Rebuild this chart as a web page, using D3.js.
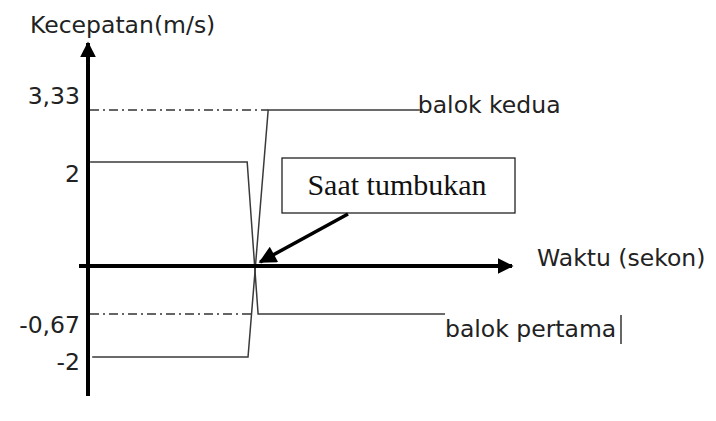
<!DOCTYPE html>
<html>
<head>
<meta charset="utf-8">
<script src="https://cdn.jsdelivr.net/npm/d3@7"></script>
<style>
  body { margin: 0; background: #fff; }
  svg { display: block; }
</style>
</head>
<body>
<svg id="chart" width="716" height="421"></svg>
<script>
// values (time in arbitrary units, velocity in m/s)
var tickValues = [3.33, 2, -0.67, -2];
var tickLabels = ["3,33", "2", "-0,67", "-2"];

var pertamaTime = [0.5, 37.9, 40.5, 85];
var pertamaVel = [2, 2, -0.67, -0.67];

var keduaTime = [1, 38.1, 42.9, 79];
var keduaVel = [-2, -2, 3.33, 3.33];

// dash-dot guide lines from the axis to the after-collision values
var guideVel = [3.33, -0.67];
var guideEnd = [42.9, 39.3];

var collisionTime = 39.8;

var svg = d3.select("#chart");

var x = d3.scaleLinear().domain([0, 100]).range([88, 508]);
// the sketch is not to scale, so piecewise scale through the marked values
var y = d3.scaleLinear()
    .domain([-2, -0.67, 0, 2, 3.33])
    .range([357, 314, 266, 162, 110]);

var defs = svg.append("defs");
defs.append("marker")
    .attr("id", "head")
    .attr("viewBox", "0 0 10 10")
    .attr("refX", 9).attr("refY", 5)
    .attr("markerWidth", 4).attr("markerHeight", 4)
    .attr("markerUnits", "strokeWidth")
    .attr("orient", "auto")
    .append("path").attr("d", "M0,0L10,5L0,10Z").attr("fill", "#000");
defs.append("marker")
    .attr("id", "head2")
    .attr("viewBox", "0 0 10 10")
    .attr("refX", 9).attr("refY", 5)
    .attr("markerWidth", 5.5).attr("markerHeight", 5)
    .attr("markerUnits", "strokeWidth")
    .attr("orient", "auto")
    .append("path").attr("d", "M0,0L10,5L0,10Z").attr("fill", "#000");

// guide lines
svg.selectAll(".guide")
    .data(guideVel)
    .enter().append("line")
    .attr("class", "guide")
    .attr("x1", x(0) + 2)
    .attr("x2", function(d, i) { return x(guideEnd[i]); })
    .attr("y1", function(d) { return y(d); })
    .attr("y2", function(d) { return y(d); })
    .attr("stroke", "#333")
    .attr("stroke-width", 1.4)
    .attr("stroke-dasharray", "9,4,2,4");

var line = d3.line()
    .x(function(d) { return x(d[0]); })
    .y(function(d) { return y(d[1]); });

svg.append("path")
    .datum(d3.zip(pertamaTime, pertamaVel))
    .attr("d", line)
    .attr("fill", "none").attr("stroke", "#3a3a3a").attr("stroke-width", 1.5);

svg.append("path")
    .datum(d3.zip(keduaTime, keduaVel))
    .attr("d", line)
    .attr("fill", "none").attr("stroke", "#3a3a3a").attr("stroke-width", 1.5);

// axes
svg.append("line")
    .attr("x1", x(0)).attr("x2", x(0))
    .attr("y1", 396).attr("y2", 43)
    .attr("stroke", "#000").attr("stroke-width", 4)
    .attr("marker-end", "url(#head)");

svg.append("line")
    .attr("x1", x(0) - 9).attr("x2", 512)
    .attr("y1", y(0)).attr("y2", y(0))
    .attr("stroke", "#000").attr("stroke-width", 4)
    .attr("marker-end", "url(#head)");

// tick labels
var fs = 23.5;
var labelDy = [1, 27, 26, 20];
var axis = d3.axisLeft(y)
    .tickValues(tickValues)
    .tickSize(0)
    .tickPadding(8)
    .tickFormat(function(d, i) { return tickLabels[i]; });

var g = svg.append("g")
    .attr("transform", "translate(" + x(0) + ",0)")
    .call(axis);
g.select(".domain").remove();
g.selectAll("text")
    .attr("font-family", "DejaVu Sans")
    .attr("font-size", fs)
    .attr("fill", "#222")
    .attr("dy", function(d, i) { return labelDy[i] - 8; });

// text labels
var sans = "DejaVu Sans";
svg.append("text").attr("x", 30).attr("y", 33)
    .attr("font-family", sans).attr("font-size", fs).attr("fill", "#222")
    .text("Kecepatan(m/s)");
svg.append("text").attr("x", 537).attr("y", 266)
    .attr("font-family", sans).attr("font-size", fs).attr("fill", "#222")
    .text("Waktu (sekon)");
svg.append("text").attr("x", x(keduaTime[3]) - 2).attr("y", y(3.33) + 3)
    .attr("font-family", sans).attr("font-size", fs).attr("fill", "#222")
    .text("balok kedua");
svg.append("text").attr("x", x(pertamaTime[3])).attr("y", 337)
    .attr("font-family", sans).attr("font-size", fs).attr("fill", "#222")
    .text("balok pertama");
// text cursor left in the original
svg.append("line")
    .attr("x1", 621).attr("x2", 621).attr("y1", 315).attr("y2", 344)
    .attr("stroke", "#000").attr("stroke-width", 1.2);

// callout box
svg.append("rect")
    .attr("x", 282).attr("y", 158).attr("width", 233).attr("height", 55)
    .attr("fill", "#fff").attr("stroke", "#222").attr("stroke-width", 1.3);
svg.append("text").attr("x", 397).attr("y", 195)
    .attr("text-anchor", "middle")
    .attr("font-family", "Liberation Serif").attr("font-size", 30).attr("fill", "#111")
    .text("Saat tumbukan");

svg.append("line")
    .attr("x1", 348).attr("y1", 214)
    .attr("x2", x(collisionTime) + 5).attr("y2", y(0) - 4)
    .attr("stroke", "#000").attr("stroke-width", 3.5)
    .attr("marker-end", "url(#head2)");
</script>
</body>
</html>
